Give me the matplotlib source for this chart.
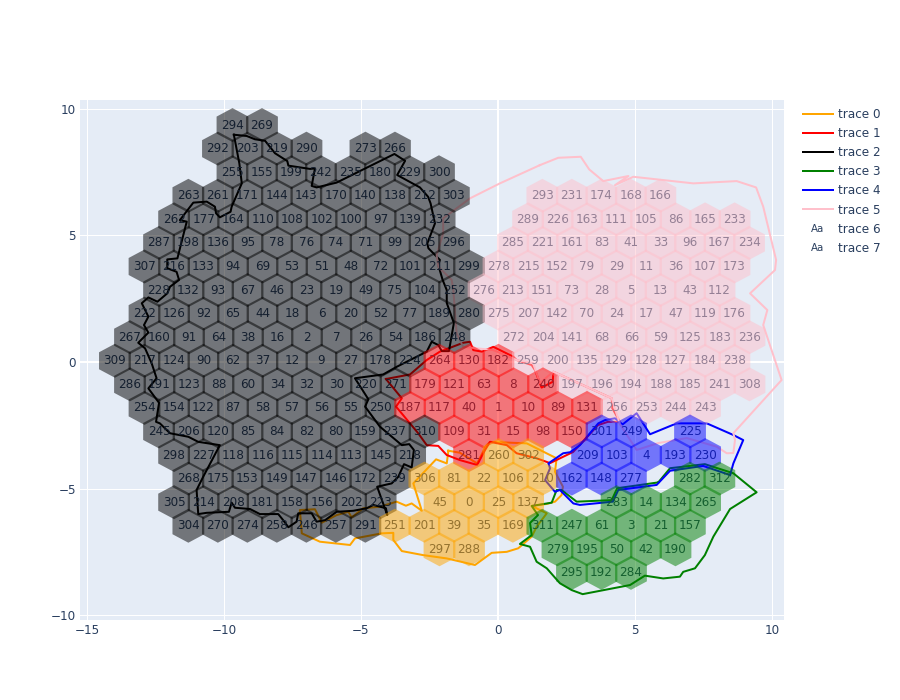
import matplotlib
matplotlib.use('Agg')
import matplotlib.pyplot as plt
from matplotlib.colors import to_rgba
from matplotlib.legend_handler import HandlerBase
from matplotlib.lines import Line2D
from matplotlib.patches import RegularPolygon
from matplotlib.text import Text

FONT_COLOR = '#2a3f5f'

# hex grid, one list per row, None is an empty cell
row_y = [9.35, 8.42, 7.49, 6.56, 5.63, 4.70, 3.77, 2.84, 1.91, 0.98,
         0.05, -0.88, -1.81, -2.74, -3.67, -4.60, -5.53, -6.46, -7.39, -8.32]
row_x_start = [-9.69, -10.22, -9.69, -11.30, -11.82, -12.37, -12.90, -12.37, -12.90, -13.43,
               -13.98, -13.43, -12.90, -12.37, -11.82, -11.30, -11.82, -11.30, -2.135, 2.70]
row_labels = [
    [294, 269],
    [292, 203, 219, 290, None, 273, 266],
    [255, 155, 199, 242, 235, 180, 229, 300],
    [263, 261, 171, 144, 143, 170, 140, 138, 212, 303, None, None, 293, 231, 174, 168, 166],
    [262, 177, 164, 110, 108, 102, 100, 97, 139, 232, None, None, 289, 226, 163, 111, 105, 86, 165, 233],
    [287, 198, 136, 95, 78, 76, 74, 71, 99, 205, 296, None, 285, 221, 161, 83, 41, 33, 96, 167, 234],
    [307, 216, 133, 94, 69, 53, 51, 48, 72, 101, 211, 299, 278, 215, 152, 79, 29, 11, 36, 107, 173],
    [228, 132, 93, 67, 46, 23, 19, 49, 75, 104, 252, 276, 213, 151, 73, 28, 5, 13, 43, 112],
    [222, 126, 92, 65, 44, 18, 6, 20, 52, 77, 189, 280, 275, 207, 142, 70, 24, 17, 47, 119, 176],
    [267, 160, 91, 64, 38, 16, 2, 7, 26, 54, 186, 248, None, 272, 204, 141, 68, 66, 59, 125, 183, 236],
    [309, 217, 124, 90, 62, 37, 12, 9, 27, 178, 224, 264, 130, 182, 259, 200, 135, 129, 128, 127, 184, 238],
    [286, 191, 123, 88, 60, 34, 32, 30, 220, 271, 179, 121, 63, 8, 240, 197, 196, 194, 188, 185, 241, 308],
    [254, 154, 122, 87, 58, 57, 56, 55, 250, 187, 117, 40, 1, 10, 89, 131, 256, 253, 244, 243],
    [245, 206, 120, 85, 84, 82, 80, 159, 237, 310, 109, 31, 15, 98, 150, 301, 249, None, 225],
    [298, 227, 118, 116, 115, 114, 113, 145, 218, None, 281, 260, 302, None, 209, 103, 4, 193, 230],
    [268, 175, 153, 149, 147, 146, 172, 239, 306, 81, 22, 106, 210, 162, 148, 277, None, 282, 312],
    [305, 214, 208, 181, 158, 156, 202, 223, None, 45, 0, 25, 137, None, None, 283, 14, 134, 265],
    [304, 270, 274, 258, 246, 257, 291, 251, 201, 39, 35, 169, 311, 247, 61, 3, 21, 157],
    [297, 288, None, None, 279, 195, 50, 42, 190],
    [295, 192, 284],
]
hex_step = 1.0766
hex_radius = 0.67

# which cluster each hex belongs to, the rest is black
orange_hex = [260, 302, 306, 81, 22, 106, 210, 45, 0, 25, 137, 251, 201, 39, 35, 169, 297, 288]
red_hex = [264, 130, 182, 179, 121, 63, 8, 240, 187, 117, 40, 1, 10, 89, 131, 109, 31, 15, 98, 150, 281]
green_hex = [282, 312, 283, 14, 134, 265, 311, 247, 61, 3, 21, 157, 279, 195, 50, 42, 190, 295, 192, 284]
blue_hex = [301, 249, 225, 209, 103, 4, 193, 230, 162, 148, 277]
pink_hex = [293, 231, 174, 168, 166, 289, 226, 163, 111, 105, 86, 165, 233, 285, 221, 161, 83, 41, 33, 96,
            167, 234, 278, 215, 152, 79, 29, 11, 36, 107, 173, 276, 213, 151, 73, 28, 5, 13, 43, 112, 275,
            207, 142, 70, 24, 17, 47, 119, 176, 272, 204, 141, 68, 66, 59, 125, 183, 236, 259, 200, 135,
            129, 128, 127, 184, 238, 197, 196, 194, 188, 185, 241, 308, 256, 253, 244, 243]

# outlines
orange_x = [-1.81, -1.39, -0.76, -0.44, -0.29, 1.05, 2.14, 2.08, 2.37, 2.32, 2.08, 1.78, 1.23, 1.78, 1.41,
            1.23, 0.74, 0.32, -0.23, -0.84, -1.87, -2.73, -3.51, -3.82, -3.82, -4.24, -5.22, -5.40, -6.50,
            -7.16, -7.23, -6.68, -6.43, -5.89, -5.46, -5.34, -4.92, -4.31, -3.70, -3.36, -3.15, -2.78,
            -3.09, -2.26, -1.87, -1.81]
orange_y = [-3.50, -3.58, -4.00, -3.31, -3.15, -3.21, -3.80, -4.33, -4.92, -5.25, -5.51, -5.60, -5.68, -5.97,
            -6.50, -6.89, -7.35, -7.49, -7.53, -8.01, -7.75, -7.62, -7.46, -7.02, -6.74, -6.76, -6.96, -7.22,
            -7.09, -6.76, -5.84, -5.81, -6.34, -6.04, -5.91, -6.13, -5.77, -5.71, -5.51, -5.67, -5.58, -5.87,
            -4.79, -3.84, -4.00, -3.50]
red_x = [-4.09, -3.21, -2.60, -2.12, -1.27, -1.02, -0.90, -0.59, -0.17, 0.56, 0.68, 1.23, 1.35, 1.59, 2.00,
         2.02, 4.15, 4.17, 4.45, 4.01, 3.65, 3.05, 2.74, 1.90, 1.41, 0.68, 0.32, -0.29, -0.47, -0.76, -1.39,
         -1.87, -2.18, -2.60, -2.92, -3.72, -3.51, -4.09]
red_y = [-0.67, -0.49, 0.08, 0.41, 0.76, 0.80, 0.47, 0.41, 0.60, 0.21, 0.08, -0.12, -0.32, -1.01, -0.78,
         -0.38, -1.43, -1.82, -2.36, -2.36, -2.49, -3.20, -3.55, -3.99, -3.80, -3.60, -3.28, -3.15, -3.47,
         -4.06, -3.87, -3.67, -3.31, -3.28, -2.80, -1.76, -1.43, -0.67]
black_x = [-9.64, -9.17, -8.87, -8.50, -8.14, -7.69, -7.65, -6.86, -6.68, -6.80, -6.62, -5.89, -3.78, -3.39,
           -3.68, -2.85, -2.55, -2.46, -2.30, -2.58, -2.54, -2.24, -2.12, -2.18, -2.02, -1.87, -1.87, -1.61,
           -1.79, -2.05, -2.18, -2.42, -2.60, -3.70, -4.19, -5.22, -4.73, -4.85, -4.31, -3.51, -3.24, -3.07,
           -3.15, -3.43, -3.64, -3.88, -4.41, -4.04, -4.09, -4.55, -4.79, -5.28, -5.89, -6.31, -6.62, -6.80,
           -7.29, -7.35, -7.65, -7.84, -8.02, -8.69, -9.05, -9.60, -9.72, -9.82, -10.63, -10.94, -11.00,
           -10.76, -10.15, -10.94, -11.30, -11.97, -12.34, -12.48, -12.37, -12.76, -12.46, -12.64, -12.88,
           -13.13, -12.76, -12.92, -12.76, -13.00, -12.76, -12.43, -12.07, -11.97, -11.64, -11.73, -12.07,
           -12.07, -11.70, -11.36, -11.61, -11.12, -10.63, -10.33, -10.29, -10.15, -9.76, -9.72, -9.35,
           -9.44, -9.64]
black_y = [8.97, 8.92, 8.79, 8.73, 8.24, 7.93, 7.75, 7.62, 7.64, 6.95, 6.89, 7.08, 8.21, 7.94, 7.38, 6.89,
           6.52, 6.26, 5.47, 4.68, 4.49, 4.16, 4.03, 3.83, 3.24, 2.84, 2.33, 1.54, 0.43, 0.43, 0.67, 0.80,
           0.41, -0.19, -0.49, -0.64, -1.47, -1.76, -2.55, -3.28, -3.24, -3.47, -4.16, -4.03, -4.53, -4.79,
           -4.92, -6.04, -5.77, -5.64, -5.77, -5.87, -5.91, -6.24, -6.30, -5.97, -5.97, -6.30, -6.52, -6.24,
           -6.00, -6.00, -5.80, -5.75, -5.55, -5.91, -5.95, -6.00, -5.05, -4.53, -3.28, -3.15, -2.95, -2.81,
           -2.42, -2.36, -1.61, -1.04, -0.64, -0.05, 0.54, 0.76, 1.16, 1.46, 1.79, 2.32, 2.55, 2.38, 2.71,
           2.97, 3.24, 3.56, 3.70, 4.05, 4.09, 5.54, 5.60, 6.29, 6.33, 6.13, 5.87, 5.71, 5.93, 6.13, 7.05,
           7.84, 8.97]
green_x = [5.85, 6.28, 7.55, 8.59, 9.44, 8.47, 7.86, 7.55, 7.19, 6.76, 6.64, 6.03, 5.36, 4.82, 3.09, 2.69,
           2.26, 1.78, 1.41, 1.17, 0.80, 1.23, 1.17, 1.46, 1.23, 1.96, 2.14, 2.32, 2.87, 4.15, 4.35, 5.85]
green_y = [-4.75, -4.19, -4.03, -4.39, -5.14, -5.80, -6.89, -7.62, -8.14, -8.28, -8.47, -8.54, -8.43, -8.80,
           -9.16, -9.00, -8.73, -8.14, -7.88, -7.29, -7.18, -6.83, -6.35, -6.04, -5.68, -5.55, -5.05, -5.05,
           -5.51, -5.45, -4.98, -4.75]
blue_x = [8.47, 8.59, 8.95, 8.59, 7.62, 6.52, 5.55, 5.06, 4.55, 4.27, 3.91, 3.66, 2.99, 2.63, 2.38, 1.84,
          1.90, 1.72, 2.08, 2.26, 2.75, 2.99, 4.19, 4.39, 5.79, 6.28, 7.49, 8.47]
blue_y = [-4.46, -4.00, -3.08, -2.88, -2.42, -2.42, -2.85, -2.02, -2.46, -2.22, -2.29, -2.42, -3.28, -3.56,
          -3.60, -4.00, -4.19, -4.66, -5.12, -5.05, -5.58, -5.64, -5.51, -5.05, -4.85, -4.29, -4.10, -4.46]
pink_x = [1.53, 0.07, -1.02, -2.00, -2.00, -2.24, -2.18, -1.69, -1.63, -1.51, -1.27, -0.17, 0.68, 1.28, 1.53,
          2.02, 4.15, 4.45, 5.06, 5.84, 6.89, 7.98, 8.35, 8.59, 8.65, 8.59, 10.35, 9.68, 9.83, 9.20, 10.11,
          10.15, 9.68, 9.42, 8.71, 7.13, 4.94, 4.27, 4.76, 3.84, 3.33, 3.02, 2.20, 1.53]
pink_y = [7.77, 7.05, 6.46, 5.67, 5.08, 4.22, 3.76, 3.24, 2.84, 1.13, 0.60, 0.47, 0.08, -0.04, -0.83, -0.38,
          -1.43, -2.45, -3.47, -3.20, -3.00, -3.34, -3.60, -3.59, -3.08, -2.81, -0.71, 1.46, 2.05, 2.71, 3.63,
          4.03, 6.13, 6.89, 7.14, 7.05, 7.31, 6.98, 7.34, 7.14, 7.60, 8.10, 8.06, 7.77]

traces = [('orange', orange_x, orange_y), ('red', red_x, red_y), ('black', black_x, black_y),
          ('green', green_x, green_y), ('blue', blue_x, blue_y), ('pink', pink_x, pink_y)]


def hex_color(label):
    if label in orange_hex:
        return 'orange'
    if label in red_hex:
        return 'red'
    if label in green_hex:
        return 'green'
    if label in blue_hex:
        return 'blue'
    if label in pink_hex:
        return 'pink'
    return 'black'


class AaHandler(HandlerBase):

    def create_artists(self, legend, orig_handle, xdescent, ydescent, width, height, fontsize, trans):
        return [Text(width / 2 - xdescent, height / 2 - ydescent, 'Aa', fontsize=fontsize * 0.85,
                     color=FONT_COLOR, ha='center', va='center', transform=trans)]


fig = plt.figure(figsize=(9, 7), dpi=100)
ax = fig.add_axes([80 / 900, 80 / 700, 703.5 / 900, 520 / 700])
ax.set_facecolor('#E5ECF6')

# hexes go on top of text and outlines, like plotly shapes, the neighbours overlap a bit
for y, x0, labels in zip(row_y, row_x_start, row_labels):
    for i, label in enumerate(labels):
        if label is None:
            continue
        x = x0 + i * hex_step
        ax.text(x, y, str(label), ha='center', va='center', fontsize=8.64, color=FONT_COLOR, zorder=4)
        ax.add_patch(RegularPolygon((x, y), 6, radius=hex_radius, facecolor=to_rgba(hex_color(label), 0.5),
                                    edgecolor='none', zorder=5))

handles = []
for i, (color, xs, ys) in enumerate(traces):
    line, = ax.plot(xs, ys, color=color, lw=1.44, zorder=3, label='trace %d' % i, solid_joinstyle='round')
    handles.append(line)

text_handles = [Line2D([], [], linestyle='none', label='trace 6'), Line2D([], [], linestyle='none', label='trace 7')]
handles += text_handles

ax.set_xlim(-15.255, 10.42)
ax.set_ylim(-10.18, 10.34)
ax.set_xticks([-15, -10, -5, 0, 5, 10])
ax.set_yticks([-10, -5, 0, 5, 10])
ax.grid(True, color='white', linewidth=0.72, zorder=1)
ax.set_axisbelow(True)
ax.axvline(0, color='white', linewidth=1.44, zorder=2)
ax.axhline(0, color='white', linewidth=1.44, zorder=2)
ax.tick_params(length=0, labelsize=8.64, labelcolor=FONT_COLOR, pad=3)
for spine in ax.spines.values():
    spine.set_visible(False)

fig.legend(handles=handles, loc='upper left', bbox_to_anchor=(803 / 900, 1 - 108 / 700), frameon=False,
           fontsize=8.64, labelcolor=FONT_COLOR, borderpad=0, borderaxespad=0, handlelength=2.5,
           handletextpad=0.42, labelspacing=0.51, handler_map={h: AaHandler() for h in text_handles})

fig.savefig('out.png', dpi=100)
